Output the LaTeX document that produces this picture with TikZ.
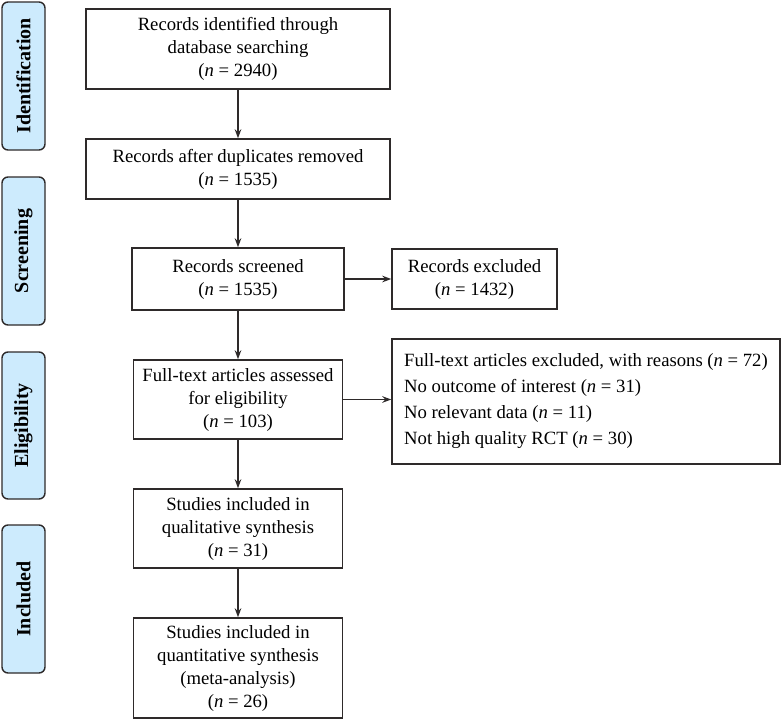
\documentclass[tikz,border=0pt]{standalone}
\usepackage{fontspec}
\setmainfont{Liberation Serif}
\usetikzlibrary{arrows.meta}
\definecolor{sidefill}{HTML}{CDEBFD}
\definecolor{edge}{HTML}{2E2A2A}
\tikzset{
  box/.style={draw=edge, line width=1.4pt, rectangle, inner sep=0pt, align=center,
    font=\fontsize{18.7}{23}\selectfont},
  side/.style={draw=edge, line width=1.4pt, fill=sidefill, rounded corners=6pt,
    inner sep=0pt, minimum width=43pt, font=\bfseries\fontsize{20}{22}\selectfont},
  arr/.style={draw=edge, line width=1.5pt, -{Stealth[length=9pt,width=6.5pt]}}
}
\begin{document}
\begin{tikzpicture}[x=1pt,y=-1pt]
\useasboundingbox (0,0) rectangle (782,720);
% side labels
\node[side, minimum height=148pt] (sid) at (23.5,76) {\rotatebox{90}{Identification}};
\node[side, minimum height=148pt] (ssc) at (23.5,251) {\rotatebox{90}{Screening}};
\node[side, minimum height=147pt] (sel) at (23.5,425.5) {\rotatebox{90}{Eligibility}};
\node[side, minimum height=148pt] (sin) at (23.5,599) {\rotatebox{90}{Included}};
% main boxes
\node[box, minimum width=304pt, minimum height=80pt] (b1) at (238,49)
  {Records identified through\\database searching\\(\textit{n} = 2940)};
\node[box, minimum width=304pt, minimum height=60pt] (b2) at (238,169)
  {Records after duplicates removed\\(\textit{n} = 1535)};
\node[box, minimum width=212pt, minimum height=62pt] (b3) at (238,279)
  {Records screened\\(\textit{n} = 1535)};
\node[box, minimum width=165pt, minimum height=60pt] (ex) at (474.5,279)
  {Records excluded\\(\textit{n} = 1432)};
\node[box, minimum width=209pt, minimum height=79pt] (b4) at (238,399.5)
  {Full-text articles assessed\\for eligibility\\(\textit{n} = 103)};
\node[box, minimum width=388pt, minimum height=125pt, align=left,
  font=\fontsize{18.7}{26}\selectfont] (rs) at (586,401.5)
  {Full-text articles excluded, with reasons (\textit{n} = 72)\\
   No outcome of interest (\textit{n} = 31)\\
   No relevant data (\textit{n} = 11)\\
   Not high quality RCT (\textit{n} = 30)};
\node[box, minimum width=209pt, minimum height=79pt] (b5) at (238,528.5)
  {Studies included in\\qualitative synthesis\\(\textit{n} = 31)};
\node[box, minimum width=209pt, minimum height=100pt] (b6) at (238,668)
  {Studies included in\\quantitative synthesis\\(meta-analysis)\\(\textit{n} = 26)};
% connectors
\draw[arr] (b1) -- (b2);
\draw[arr] (b2) -- (b3);
\draw[arr] (b3) -- (ex);
\draw[arr] (b3) -- (b4);
\draw[arr] (b4.east) -- (b4.east -| rs.west);
\draw[arr] (b4) -- (b5);
\draw[arr] (b5) -- (b6);
\end{tikzpicture}
\end{document}
